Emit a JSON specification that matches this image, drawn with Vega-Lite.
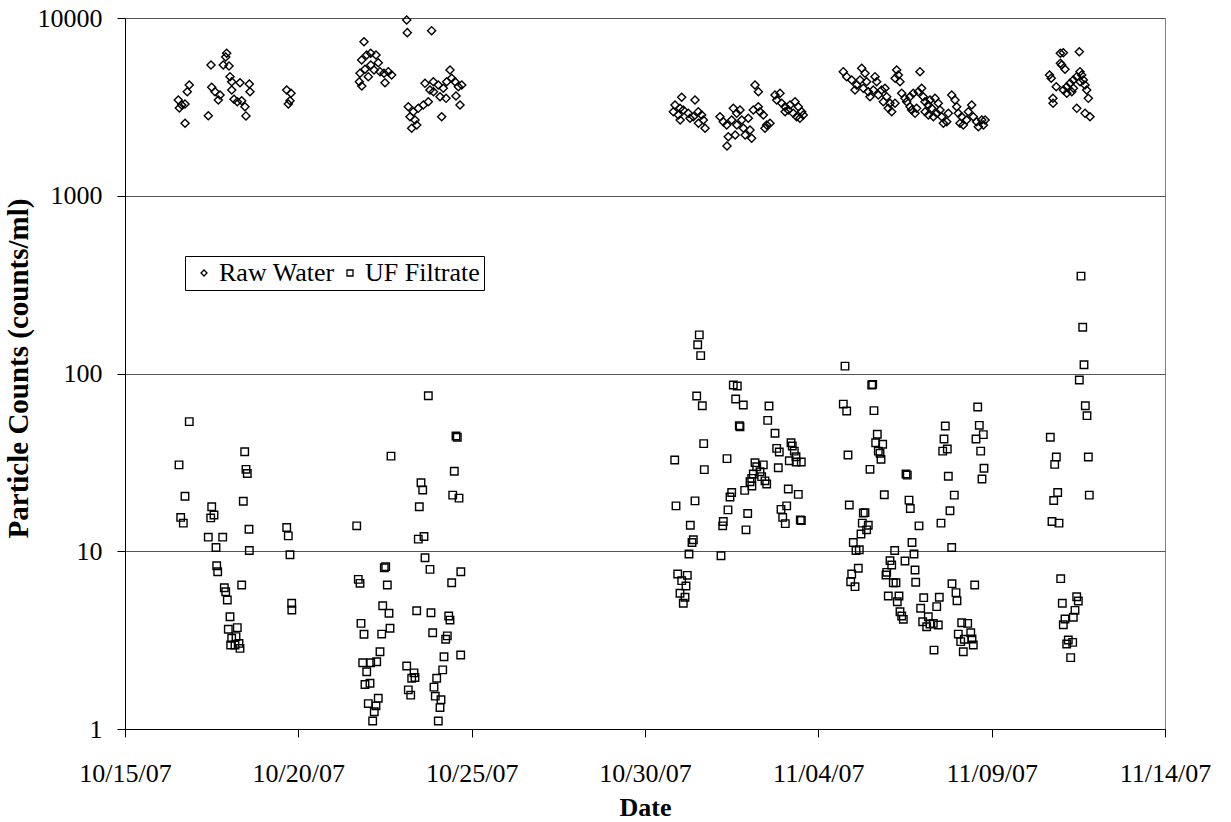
{
"$schema":"https://vega.github.io/schema/vega-lite/v6.json",
"width":1040,"height":711,
"autosize":{"type":"none"},
"padding":{"left":125,"top":18,"right":66,"bottom":93},
"background":"white",
"config":{"font":"Liberation Serif","view":{"stroke":"#808080","strokeWidth":1}},
"layer":[
{"data":{"values":[
{"date":"2007-10-16T20:30","count":4199},{"date":"2007-10-16T19:07","count":3849},{"date":"2007-10-16T12:53","count":3457},{"date":"2007-10-16T15:14","count":3239},{"date":"2007-10-16T17:32","count":3282},{"date":"2007-10-16T13:38","count":3117},{"date":"2007-10-16T17:35","count":2556},
{"date":"2007-10-17T09:40","count":2820},{"date":"2007-10-17T11:32","count":5440},{"date":"2007-10-17T22:23","count":6330},{"date":"2007-10-17T20:02","count":5440},{"date":"2007-10-18T00:00","count":5370},{"date":"2007-10-17T21:43","count":6034},{"date":"2007-10-17T12:02","count":4078},{"date":"2007-10-17T14:19","count":3849},{"date":"2007-10-17T17:47","count":3688},{"date":"2007-10-17T16:36","count":3457},{"date":"2007-10-18T00:42","count":4676},{"date":"2007-10-18T01:52","count":4381},{"date":"2007-10-18T01:55","count":3934},{"date":"2007-10-18T07:37","count":4325},{"date":"2007-10-18T14:04","count":4253},{"date":"2007-10-18T14:33","count":3849},{"date":"2007-10-18T03:28","count":3488},{"date":"2007-10-18T05:45","count":3381},{"date":"2007-10-18T08:47","count":3425},{"date":"2007-10-18T11:03","count":3169},{"date":"2007-10-18T11:45","count":2812},
{"date":"2007-10-19T15:57","count":3934},{"date":"2007-10-19T18:55","count":3770},{"date":"2007-10-19T18:13","count":3425},{"date":"2007-10-19T17:05","count":3282},
{"date":"2007-10-21T21:28","count":7357},{"date":"2007-10-23T03:01","count":9745},{"date":"2007-10-23T03:26","count":8269},{"date":"2007-10-23T20:16","count":8484},{"date":"2007-10-21T19:50","count":5803},{"date":"2007-10-21T23:20","count":6191},{"date":"2007-10-22T02:06","count":6330},{"date":"2007-10-22T05:45","count":6191},{"date":"2007-10-22T07:20","count":5604},{"date":"2007-10-22T02:10","count":5440},{"date":"2007-10-21T22:09","count":5145},{"date":"2007-10-22T04:25","count":5099},{"date":"2007-10-22T08:32","count":4989},{"date":"2007-10-22T11:18","count":4886},{"date":"2007-10-22T14:17","count":4989},{"date":"2007-10-22T16:36","count":4780},{"date":"2007-10-21T18:42","count":4886},{"date":"2007-10-21T18:13","count":4381},{"date":"2007-10-21T19:55","count":4144},{"date":"2007-10-22T00:26","count":4676},{"date":"2007-10-22T12:00","count":4325},
{"date":"2007-10-23T04:08","count":3169},{"date":"2007-10-23T07:36","count":2970},{"date":"2007-10-23T05:19","count":2784},{"date":"2007-10-23T08:46","count":2668},{"date":"2007-10-23T09:57","count":2500},{"date":"2007-10-23T06:29","count":2396},{"date":"2007-10-23T11:03","count":3104},{"date":"2007-10-23T14:31","count":3239},{"date":"2007-10-23T17:59","count":3381},{"date":"2007-10-23T15:42","count":4291},{"date":"2007-10-23T19:09","count":3934},{"date":"2007-10-23T21:28","count":4381},{"date":"2007-10-24T00:54","count":4199},{"date":"2007-10-24T04:21","count":4025},{"date":"2007-10-24T06:42","count":4381},{"date":"2007-10-24T09:00","count":5099},{"date":"2007-10-24T10:10","count":4580},{"date":"2007-10-24T12:28","count":4381},{"date":"2007-10-24T14:47","count":4107},{"date":"2007-10-24T17:08","count":4199},{"date":"2007-10-23T21:35","count":3849},{"date":"2007-10-24T02:05","count":3608},{"date":"2007-10-24T06:15","count":3533},{"date":"2007-10-24T13:09","count":3641},{"date":"2007-10-24T15:56","count":3239},{"date":"2007-10-24T03:15","count":2784},
{"date":"2007-10-31T01:24","count":3580},{"date":"2007-10-31T10:37","count":3457},{"date":"2007-10-30T20:46","count":3239},{"date":"2007-10-31T00:14","count":3104},{"date":"2007-10-30T19:37","count":2970},{"date":"2007-10-30T23:05","count":2846},{"date":"2007-10-31T02:31","count":3036},{"date":"2007-10-31T05:58","count":2909},{"date":"2007-10-31T07:09","count":2727},{"date":"2007-10-31T00:20","count":2668},{"date":"2007-10-31T09:27","count":2784},{"date":"2007-10-31T12:54","count":2970},{"date":"2007-10-31T15:15","count":2846},{"date":"2007-10-31T16:24","count":2668},{"date":"2007-10-31T17:35","count":2396},{"date":"2007-10-31T13:00","count":2556},
{"date":"2007-11-01T03:55","count":2784},{"date":"2007-11-01T06:12","count":2610},{"date":"2007-11-01T08:33","count":2500},{"date":"2007-11-01T09:40","count":2149},{"date":"2007-11-01T13:08","count":3104},{"date":"2007-11-01T15:29","count":2909},{"date":"2007-11-01T12:01","count":2668},{"date":"2007-11-01T15:35","count":2500},{"date":"2007-11-01T19:00","count":2668},{"date":"2007-11-01T20:10","count":2396},{"date":"2007-11-01T21:20","count":2197},{"date":"2007-11-01T14:26","count":2197},{"date":"2007-11-02T00:42","count":2344},{"date":"2007-11-02T01:52","count":2105},{"date":"2007-11-01T23:31","count":2727},{"date":"2007-11-02T02:59","count":3036},{"date":"2007-11-02T06:26","count":3169},{"date":"2007-11-02T07:37","count":2970},{"date":"2007-11-02T09:54","count":2846},{"date":"2007-11-02T12:15","count":2500},{"date":"2007-11-02T14:32","count":2556},{"date":"2007-11-02T11:04","count":2396},{"date":"2007-11-02T04:09","count":4199},{"date":"2007-11-02T06:30","count":3849},{"date":"2007-11-01T17:46","count":3036},{"date":"2007-11-01T08:46","count":1905},
{"date":"2007-11-02T18:00","count":3688},{"date":"2007-11-02T21:28","count":3770},{"date":"2007-11-02T19:10","count":3457},{"date":"2007-11-02T22:37","count":3312},{"date":"2007-11-03T00:55","count":3169},{"date":"2007-11-03T04:23","count":3239},{"date":"2007-11-03T07:51","count":3381},{"date":"2007-11-03T10:08","count":3169},{"date":"2007-11-03T12:29","count":2970},{"date":"2007-11-03T03:12","count":3036},{"date":"2007-11-03T06:39","count":2909},{"date":"2007-11-03T08:58","count":2784},{"date":"2007-11-03T11:15","count":2727},{"date":"2007-11-03T13:33","count":2846},{"date":"2007-11-03T01:00","count":2970},
{"date":"2007-11-04T17:17","count":4989},{"date":"2007-11-04T19:38","count":4676},{"date":"2007-11-04T23:06","count":4479},{"date":"2007-11-05T02:34","count":4199},{"date":"2007-11-05T01:23","count":3934},{"date":"2007-11-05T06:02","count":5212},{"date":"2007-11-05T08:18","count":4886},{"date":"2007-11-05T04:51","count":4479},{"date":"2007-11-05T09:27","count":4381},{"date":"2007-11-05T07:08","count":4025},{"date":"2007-11-05T10:35","count":3849},{"date":"2007-11-05T15:14","count":4676},{"date":"2007-11-05T16:24","count":4381},{"date":"2007-11-05T14:04","count":3934},{"date":"2007-11-05T11:46","count":3608},{"date":"2007-11-05T17:31","count":3688},{"date":"2007-11-05T19:50","count":3934},{"date":"2007-11-05T22:09","count":4025},{"date":"2007-11-05T23:20","count":3608},{"date":"2007-11-05T21:01","count":3381},{"date":"2007-11-06T01:37","count":3312},{"date":"2007-11-06T00:26","count":3104},{"date":"2007-11-06T02:48","count":2970},{"date":"2007-11-06T05:05","count":3312},{"date":"2007-11-06T06:15","count":5099},{"date":"2007-11-06T07:24","count":4780},{"date":"2007-11-06T05:10","count":4580},{"date":"2007-11-06T08:32","count":4381},{"date":"2007-11-06T09:43","count":3770},{"date":"2007-11-06T12:00","count":3533},{"date":"2007-11-06T13:09","count":3381},{"date":"2007-11-06T15:26","count":3608},{"date":"2007-11-06T17:45","count":3770},{"date":"2007-11-06T22:22","count":4989},{"date":"2007-11-06T23:32","count":4025},{"date":"2007-11-06T21:11","count":3849},{"date":"2007-11-07T00:40","count":3608},{"date":"2007-11-06T15:30","count":3169},{"date":"2007-11-06T16:36","count":3036},{"date":"2007-11-06T20:04","count":3104},{"date":"2007-11-06T18:56","count":2909},{"date":"2007-11-07T01:51","count":3381},{"date":"2007-11-07T05:18","count":3457},{"date":"2007-11-07T04:08","count":3239},{"date":"2007-11-07T06:28","count":3104},{"date":"2007-11-07T08:46","count":3533},{"date":"2007-11-07T11:03","count":3312},{"date":"2007-11-07T12:14","count":3036},{"date":"2007-11-07T09:57","count":2909},{"date":"2007-11-07T13:25","count":2784},{"date":"2007-11-07T14:33","count":2556},{"date":"2007-11-07T16:54","count":2610},{"date":"2007-11-07T18:00","count":2909},{"date":"2007-11-07T20:20","count":3688},{"date":"2007-11-07T22:37","count":3457},{"date":"2007-11-07T23:47","count":3169},{"date":"2007-11-08T00:54","count":2909},{"date":"2007-11-08T03:15","count":2784},{"date":"2007-11-08T02:05","count":2556},{"date":"2007-11-08T04:21","count":2500},{"date":"2007-11-08T06:42","count":2668},{"date":"2007-11-08T07:51","count":2970},{"date":"2007-11-08T10:10","count":3239},{"date":"2007-11-08T11:17","count":2784},{"date":"2007-11-08T13:36","count":2610},{"date":"2007-11-08T14:47","count":2446},{"date":"2007-11-08T17:08","count":2668},{"date":"2007-11-08T18:17","count":2500},{"date":"2007-11-08T19:27","count":2668},{"date":"2007-11-07T01:55","count":2970},{"date":"2007-11-07T04:12","count":2846},{"date":"2007-11-07T07:40","count":2784},
{"date":"2007-11-10T23:31","count":6330},{"date":"2007-11-11T01:36","count":6380},{"date":"2007-11-11T12:41","count":6463},{"date":"2007-11-10T23:35","count":5561},{"date":"2007-11-11T00:29","count":5440},{"date":"2007-11-11T02:46","count":5145},{"date":"2007-11-10T16:04","count":4780},{"date":"2007-11-10T17:14","count":4580},{"date":"2007-11-10T20:42","count":4107},{"date":"2007-11-10T18:24","count":3533},{"date":"2007-11-10T18:30","count":3312},{"date":"2007-11-11T01:40","count":3934},{"date":"2007-11-11T03:56","count":4107},{"date":"2007-11-11T06:14","count":4291},{"date":"2007-11-11T08:31","count":4479},{"date":"2007-11-11T10:52","count":4676},{"date":"2007-11-11T13:09","count":4989},{"date":"2007-11-11T14:19","count":4780},{"date":"2007-11-11T15:29","count":4479},{"date":"2007-11-11T13:15","count":4381},{"date":"2007-11-11T16:36","count":4199},{"date":"2007-11-11T17:46","count":3934},{"date":"2007-11-11T18:55","count":3533},{"date":"2007-11-11T04:00","count":3770},{"date":"2007-11-11T07:27","count":3849},{"date":"2007-11-11T10:55","count":3104},{"date":"2007-11-11T16:40","count":2909},{"date":"2007-11-11T20:04","count":2784},{"date":"2007-11-11T08:35","count":4025}
]},
 "mark":{"type":"point","filled":false,"strokeWidth":1.4,"size":66,"opacity":1,"color":"black"},
 "encoding":{
  "shape":{"datum":"Raw Water","type":"nominal",
   "scale":{"domain":["Raw Water","UF Filtrate"],"range":["diamond","square"]},
   "legend":{"title":null,"orient":"none","legendX":60,"legendY":238,"direction":"horizontal","padding":4,"strokeColor":"black","fillColor":"white",
    "labelFont":"Liberation Serif","labelFontSize":26,"labelColor":"black","symbolSize":36,"symbolStrokeColor":"black","symbolStrokeWidth":1.3,"symbolOffset":2,"labelOffset":2,"columnPadding":0}}
 }},
{"data":{"values":[
{"date":"2007-10-16T20:30","count":53.6},{"date":"2007-10-16T13:24","count":30.6},{"date":"2007-10-16T17:32","count":20.4},{"date":"2007-10-16T14:34","count":15.5},{"date":"2007-10-16T16:22","count":14.4},
{"date":"2007-10-17T12:02","count":17.8},{"date":"2007-10-17T11:20","count":15.4},{"date":"2007-10-17T13:37","count":16.0},{"date":"2007-10-17T09:40","count":12.0},{"date":"2007-10-17T19:38","count":12.0},{"date":"2007-10-17T15:00","count":10.5},{"date":"2007-10-17T15:29","count":8.29},{"date":"2007-10-17T16:10","count":7.67},{"date":"2007-10-17T20:45","count":6.23},{"date":"2007-10-17T21:43","count":5.92},{"date":"2007-10-17T22:50","count":5.32},{"date":"2007-10-18T08:47","count":6.46},{"date":"2007-10-18T00:42","count":4.28},{"date":"2007-10-17T23:31","count":3.64},{"date":"2007-10-18T05:45","count":3.72},{"date":"2007-10-18T04:51","count":3.31},{"date":"2007-10-18T01:52","count":3.24},{"date":"2007-10-18T01:10","count":2.97},{"date":"2007-10-18T06:55","count":3.03},{"date":"2007-10-18T07:37","count":2.84},{"date":"2007-10-18T04:09","count":2.97},{"date":"2007-10-18T10:52","count":36.3},{"date":"2007-10-18T11:46","count":28.9},{"date":"2007-10-18T12:40","count":27.4},{"date":"2007-10-18T09:54","count":19.1},{"date":"2007-10-18T13:51","count":13.3},{"date":"2007-10-18T14:04","count":10.1},
{"date":"2007-10-19T15:57","count":13.6},{"date":"2007-10-19T17:03","count":12.2},{"date":"2007-10-19T18:13","count":9.56},{"date":"2007-10-19T19:24","count":5.10},{"date":"2007-10-19T19:30","count":4.67},
{"date":"2007-10-21T16:25","count":13.9},{"date":"2007-10-21T17:31","count":6.95},{"date":"2007-10-21T18:42","count":6.60},{"date":"2007-10-21T19:23","count":3.93},{"date":"2007-10-21T21:28","count":3.41},{"date":"2007-10-21T20:34","count":2.36},{"date":"2007-10-22T02:06","count":2.36},{"date":"2007-10-22T06:15","count":2.39},{"date":"2007-10-22T08:32","count":2.72},{"date":"2007-10-21T23:20","count":2.10},{"date":"2007-10-21T22:09","count":1.78},{"date":"2007-10-22T01:37","count":1.81},{"date":"2007-10-22T00:26","count":1.39},{"date":"2007-10-22T07:20","count":1.49},{"date":"2007-10-22T05:45","count":1.35},{"date":"2007-10-22T04:34","count":1.25},{"date":"2007-10-22T03:28","count":1.11},{"date":"2007-10-22T16:09","count":34.3},{"date":"2007-10-22T12:29","count":8.19},{"date":"2007-10-22T11:31","count":8.08},{"date":"2007-10-22T13:36","count":6.46},{"date":"2007-10-22T10:25","count":4.94},{"date":"2007-10-22T14:46","count":4.48},{"date":"2007-10-22T15:28","count":3.69},{"date":"2007-10-22T09:43","count":3.42},
{"date":"2007-10-23T03:01","count":2.26},{"date":"2007-10-23T08:05","count":2.07},{"date":"2007-10-23T06:29","count":1.93},{"date":"2007-10-23T08:46","count":1.95},{"date":"2007-10-23T04:08","count":1.66},{"date":"2007-10-23T05:48","count":1.55},{"date":"2007-10-23T09:57","count":4.63},{"date":"2007-10-23T17:59","count":75.0},{"date":"2007-10-23T12:56","count":24.3},{"date":"2007-10-23T14:06","count":22.1},{"date":"2007-10-23T11:45","count":17.8},{"date":"2007-10-23T11:03","count":11.7},{"date":"2007-10-23T15:00","count":12.1},{"date":"2007-10-23T15:42","count":9.20},{"date":"2007-10-23T19:09","count":7.91},{"date":"2007-10-23T19:50","count":4.51},{"date":"2007-10-23T21:01","count":3.48},
{"date":"2007-10-24T08:06","count":4.32},{"date":"2007-10-24T09:00","count":4.10},{"date":"2007-10-24T07:08","count":3.34},{"date":"2007-10-24T06:01","count":3.20},{"date":"2007-10-24T04:51","count":2.55},{"date":"2007-10-24T16:24","count":2.61},{"date":"2007-10-24T03:57","count":2.15},{"date":"2007-10-23T23:47","count":1.93},{"date":"2007-10-23T21:55","count":1.72},{"date":"2007-10-23T22:49","count":1.53},{"date":"2007-10-24T02:46","count":1.46},{"date":"2007-10-24T02:05","count":1.32},{"date":"2007-10-24T00:54","count":1.11},{"date":"2007-10-24T13:09","count":44.5},{"date":"2007-10-24T14:03","count":43.8},{"date":"2007-10-24T11:59","count":28.2},{"date":"2007-10-24T10:53","count":20.7},{"date":"2007-10-24T15:14","count":19.9},{"date":"2007-10-24T10:10","count":6.65},{"date":"2007-10-24T16:30","count":7.67},
{"date":"2007-10-31T13:35","count":165},{"date":"2007-10-31T12:29","count":145},{"date":"2007-10-31T14:33","count":126},{"date":"2007-10-31T11:47","count":74.7},{"date":"2007-10-31T15:40","count":65.9},{"date":"2007-10-31T16:38","count":40.3},{"date":"2007-10-30T20:34","count":32.6},{"date":"2007-10-31T17:04","count":28.8},{"date":"2007-10-30T21:28","count":18.0},{"date":"2007-10-31T10:37","count":19.2},{"date":"2007-10-31T07:22","count":14.0},{"date":"2007-10-31T09:27","count":11.6},{"date":"2007-10-31T08:33","count":11.2},{"date":"2007-10-31T06:28","count":9.65},{"date":"2007-10-30T22:39","count":7.45},{"date":"2007-10-31T05:17","count":7.32},{"date":"2007-10-31T01:24","count":6.83},{"date":"2007-10-31T04:23","count":6.38},{"date":"2007-10-31T00:14","count":5.80},{"date":"2007-10-31T03:42","count":5.51},{"date":"2007-10-31T02:31","count":5.10},
{"date":"2007-11-01T04:37","count":9.44},{"date":"2007-11-01T13:08","count":86.1},{"date":"2007-11-01T15:54","count":85.0},{"date":"2007-11-01T14:47","count":71.9},{"date":"2007-11-01T20:03","count":66.5},{"date":"2007-11-01T17:17","count":50.9},{"date":"2007-11-01T17:46","count":50.2},{"date":"2007-11-01T08:46","count":33.2},{"date":"2007-11-01T12:01","count":21.4},{"date":"2007-11-01T10:50","count":20.2},{"date":"2007-11-01T09:27","count":17.1},{"date":"2007-11-01T06:12","count":14.7},{"date":"2007-11-01T05:47","count":13.9},{"date":"2007-11-01T23:06","count":16.3},{"date":"2007-11-01T21:55","count":13.2},{"date":"2007-11-01T21:01","count":22.0},
{"date":"2007-11-02T13:51","count":65.6},{"date":"2007-11-02T12:57","count":54.5},{"date":"2007-11-02T18:00","count":46.1},{"date":"2007-11-02T19:10","count":37.9},{"date":"2007-11-02T20:58","count":36.2},{"date":"2007-11-02T04:09","count":31.5},{"date":"2007-11-02T05:20","count":29.9},{"date":"2007-11-02T09:54","count":30.6},{"date":"2007-11-02T07:37","count":28.0},{"date":"2007-11-02T02:59","count":27.2},{"date":"2007-11-02T01:52","count":25.7},{"date":"2007-11-02T00:42","count":24.6},{"date":"2007-11-02T02:00","count":23.3},{"date":"2007-11-02T08:46","count":26.3},{"date":"2007-11-02T11:04","count":24.9},{"date":"2007-11-02T12:15","count":23.9},{"date":"2007-11-02T20:16","count":29.5},
{"date":"2007-11-03T05:05","count":40.8},{"date":"2007-11-03T05:58","count":39.1},{"date":"2007-11-03T07:22","count":36.6},{"date":"2007-11-03T08:32","count":34.0},{"date":"2007-11-03T03:54","count":32.3},{"date":"2007-11-03T08:40","count":31.8},{"date":"2007-11-03T12:12","count":31.8},{"date":"2007-11-03T03:12","count":22.4},{"date":"2007-11-03T10:08","count":20.9},{"date":"2007-11-03T02:06","count":18.0},{"date":"2007-11-02T22:09","count":17.2},{"date":"2007-11-02T23:20","count":15.5},{"date":"2007-11-03T01:08","count":14.3},{"date":"2007-11-03T11:31","count":15.0},{"date":"2007-11-03T12:15","count":14.9},
{"date":"2007-11-04T18:28","count":110},{"date":"2007-11-05T12:57","count":86.1},{"date":"2007-11-05T13:39","count":86.9},{"date":"2007-11-04T17:17","count":67.3},{"date":"2007-11-04T19:38","count":61.5},{"date":"2007-11-05T14:32","count":61.8},{"date":"2007-11-05T16:49","count":45.5},{"date":"2007-11-05T15:42","count":40.8},{"date":"2007-11-05T20:33","count":40.0},{"date":"2007-11-05T17:31","count":36.6},{"date":"2007-11-05T18:42","count":35.6},{"date":"2007-11-05T19:24","count":32.9},{"date":"2007-11-04T20:32","count":34.8},{"date":"2007-11-05T11:46","count":28.9},{"date":"2007-11-05T21:40","count":20.8},{"date":"2007-11-04T21:26","count":18.2},{"date":"2007-11-05T08:18","count":16.5},{"date":"2007-11-05T07:08","count":16.4},{"date":"2007-11-05T06:26","count":14.4},{"date":"2007-11-05T10:35","count":14.0},{"date":"2007-11-05T09:27","count":13.2},{"date":"2007-11-05T05:32","count":12.5},{"date":"2007-11-05T00:12","count":11.2},{"date":"2007-11-05T04:21","count":10.2},{"date":"2007-11-05T02:04","count":10.1},{"date":"2007-11-05T03:40","count":8.02},{"date":"2007-11-04T23:06","count":7.45},{"date":"2007-11-04T22:24","count":6.74},{"date":"2007-11-05T01:23","count":6.32},
{"date":"2007-11-06T12:41","count":27.2},{"date":"2007-11-06T13:35","count":26.8},{"date":"2007-11-06T14:46","count":19.4},{"date":"2007-11-06T15:40","count":17.4},{"date":"2007-11-06T21:42","count":13.9},{"date":"2007-11-06T16:51","count":11.2},{"date":"2007-11-06T18:14","count":9.65},{"date":"2007-11-06T18:56","count":7.84},{"date":"2007-11-06T19:25","count":6.69},{"date":"2007-11-06T04:52","count":10.1},{"date":"2007-11-06T01:37","count":8.85},{"date":"2007-11-06T02:48","count":8.37},{"date":"2007-11-05T23:20","count":7.61},{"date":"2007-11-05T22:51","count":7.35},{"date":"2007-11-06T12:00","count":8.81},{"date":"2007-11-06T03:54","count":6.65},{"date":"2007-11-06T05:46","count":6.65},{"date":"2007-11-06T00:26","count":5.60},{"date":"2007-11-06T07:50","count":5.60},{"date":"2007-11-06T06:40","count":5.20},{"date":"2007-11-06T08:32","count":4.57},{"date":"2007-11-06T09:43","count":4.32},{"date":"2007-11-06T10:50","count":4.14},
{"date":"2007-11-07T00:57","count":5.48},{"date":"2007-11-07T09:57","count":4.88},{"date":"2007-11-07T11:45","count":5.51},{"date":"2007-11-06T22:51","count":4.78},{"date":"2007-11-07T00:15","count":4.01},{"date":"2007-11-07T03:01","count":3.76},{"date":"2007-11-07T04:08","count":4.28},{"date":"2007-11-07T07:35","count":3.93},{"date":"2007-11-07T11:03","count":3.85},{"date":"2007-11-07T05:18","count":3.90},{"date":"2007-11-07T08:05","count":2.78},{"date":"2007-11-07T15:54","count":50.7},{"date":"2007-11-07T15:00","count":42.8},{"date":"2007-11-07T14:06","count":36.6},{"date":"2007-11-07T17:17","count":37.6},{"date":"2007-11-07T17:59","count":26.4},{"date":"2007-11-07T22:08","count":20.7},{"date":"2007-11-07T19:09","count":16.9},{"date":"2007-11-07T12:55","count":14.4},{"date":"2007-11-07T20:20","count":10.5},{"date":"2007-11-07T20:32","count":6.57},{"date":"2007-11-07T23:18","count":5.85},{"date":"2007-11-08T00:00","count":5.27},
{"date":"2007-11-08T12:15","count":6.46},{"date":"2007-11-08T14:20","count":64.8},{"date":"2007-11-08T15:26","count":51.1},{"date":"2007-11-08T18:12","count":45.3},{"date":"2007-11-08T13:09","count":42.8},{"date":"2007-11-08T16:24","count":36.6},{"date":"2007-11-08T18:41","count":29.3},{"date":"2007-11-08T17:18","count":25.5},{"date":"2007-11-08T03:15","count":3.96},{"date":"2007-11-08T07:24","count":3.93},{"date":"2007-11-08T00:54","count":3.42},{"date":"2007-11-08T09:31","count":3.48},{"date":"2007-11-08T02:34","count":3.10},{"date":"2007-11-08T05:04","count":3.20},{"date":"2007-11-08T10:23","count":3.21},{"date":"2007-11-08T11:17","count":2.97},{"date":"2007-11-08T04:21","count":2.72},
{"date":"2007-11-11T13:51","count":353},{"date":"2007-11-11T15:02","count":182},{"date":"2007-11-11T15:56","count":112},{"date":"2007-11-11T12:41","count":91.9},{"date":"2007-11-11T16:50","count":65.9},{"date":"2007-11-11T18:00","count":57.9},{"date":"2007-11-10T16:36","count":43.8},{"date":"2007-11-10T20:45","count":33.9},{"date":"2007-11-10T19:38","count":30.8},{"date":"2007-11-11T18:55","count":33.9},{"date":"2007-11-10T21:43","count":21.4},{"date":"2007-11-10T18:57","count":19.3},{"date":"2007-11-11T19:36","count":20.7},{"date":"2007-11-10T17:46","count":14.7},{"date":"2007-11-10T22:37","count":14.4},{"date":"2007-11-10T23:48","count":7.01},{"date":"2007-11-11T10:52","count":5.55},{"date":"2007-11-11T12:00","count":5.25},{"date":"2007-11-11T00:54","count":5.10},{"date":"2007-11-11T09:41","count":4.65},{"date":"2007-11-11T08:31","count":4.25},{"date":"2007-11-11T02:46","count":4.16},{"date":"2007-11-11T01:36","count":3.86},{"date":"2007-11-11T05:03","count":3.17},{"date":"2007-11-11T08:05","count":3.07},{"date":"2007-11-11T03:56","count":3.01},{"date":"2007-11-11T06:42","count":2.52}
]},
 "mark":{"type":"point","filled":false,"strokeWidth":1.4,"size":56,"opacity":1,"color":"black"},
 "encoding":{
  "shape":{"datum":"UF Filtrate","type":"nominal"}
 }}
],
"resolve":{"scale":{"shape":"shared"}},
"encoding":{
 "x":{"field":"date","type":"temporal",
  "scale":{"domain":[{"year":2007,"month":10,"date":15},{"year":2007,"month":11,"date":14}]},
  "axis":{"title":"Date","values":[{"year":2007,"month":10,"date":15},{"year":2007,"month":10,"date":20},{"year":2007,"month":10,"date":25},{"year":2007,"month":10,"date":30},{"year":2007,"month":11,"date":4},{"year":2007,"month":11,"date":9},{"year":2007,"month":11,"date":14}],
   "format":"%m/%d/%y","labelFontSize":26,"labelColor":"black","labelFont":"Liberation Serif","tickColor":"black","tickSize":8,"labelPadding":23,"domainColor":"black","grid":false,"labelFlush":false,"labelOverlap":false,
   "titleFontSize":26,"titleFontWeight":"bold","titleColor":"black","titleFont":"Liberation Serif","titleBaseline":"alphabetic","titleY":86}},
 "y":{"field":"count","type":"quantitative",
  "scale":{"type":"log","domain":[1,10000],"nice":false},
  "axis":{"title":"Particle Counts (counts/ml)","values":[1,10,100,1000,10000],"format":"d","grid":true,"gridColor":"#555555","gridWidth":1,
   "tickColor":"black","tickSize":8,"labelPadding":15,"labelFontSize":26,"labelColor":"black","labelFont":"Liberation Serif","domainColor":"black","labelOverlap":false,"labelFlush":false,
   "titleFontSize":29,"titleFontWeight":"bold","titleColor":"black","titleFont":"Liberation Serif","titleBaseline":"alphabetic","titleX":-98,"titleY":350,"titleAngle":270}}
}
}
